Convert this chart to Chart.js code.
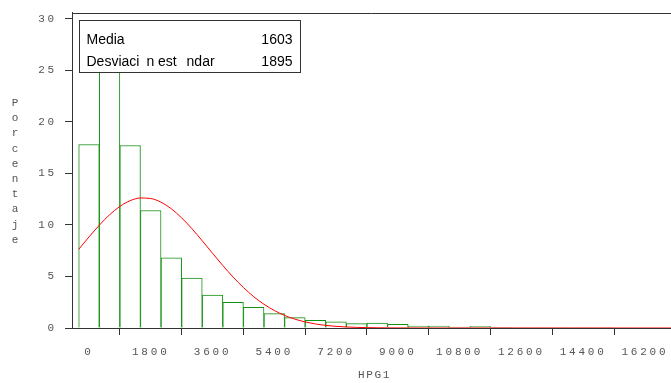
<!DOCTYPE html>
<html>
<head>
<meta charset="utf-8">
<script src="https://cdn.jsdelivr.net/npm/chart.js@4/dist/chart.umd.min.js"></script>
<style>
  html, body { margin: 0; padding: 0; background: #fff; }
  #wrap { width: 671px; height: 383px; position: relative; }
</style>
</head>
<body>
<div id="wrap"><canvas id="c" width="671" height="383"></canvas></div>
<script>
// ---- Data ----
const BIN_CENTERS = [0, 600, 1200, 1800, 2400, 3000, 3600, 4200, 4800, 5400, 6000, 6600, 7200,
                     7800, 8400, 9000, 9600, 10200, 10800, 11400, 12000, 12600, 13200, 13800, 14400, 15000];
const PERCENT = [17.8, 27.7, 17.7, 11.4, 6.8, 4.85, 3.2, 2.5, 2.0, 1.4, 1.0, 0.75, 0.6,
                 0.42, 0.48, 0.35, 0.19, 0.19, 0.1, 0.16, 0.06, 0.05, 0.05, 0.05, 0.05, 0.05];

const CURVE_X = [-300, 0, 300, 600, 900, 1200, 1500, 1800, 2100, 2400, 2700, 3000, 3300, 3600, 3900,
                 4200, 4500, 4800, 5100, 5400, 5700, 6000, 6300, 6600, 6900, 7200, 7500, 7800, 8100,
                 8400, 8700, 9000, 10000, 12000, 14000, 16000, 17000];
const CURVE_Y = [7.63, 8.83, 9.97, 10.98, 11.79, 12.35, 12.61, 12.56, 12.20, 11.56, 10.68, 9.63, 8.46, 7.25, 6.06,
                 4.94, 3.93, 3.04, 2.30, 1.70, 1.22, 0.86, 0.59, 0.39, 0.25, 0.16, 0.10, 0.06, 0.035,
                 0.02, 0.01, 0.006, 0, 0, 0, 0, 0];

const X_TICKS = [0, 1800, 3600, 5400, 7200, 9000, 10800, 12600, 14400, 16200];
const Y_TICKS = [0, 5, 10, 15, 20, 25, 30];

const X_TITLE = 'HPG1';
const Y_TITLE = 'Porcentaje';
const STAT_LABELS = ['Media', 'Desviaci\u2002n est\u2002\u2009ndar'];
const STAT_VALUES = ['1603', '1895'];

// ---- Chart ----
const MONO = '"Liberation Mono", "Courier New", monospace';
const AXIS_COLOR = '#333';
const TEXT_COLOR = '#555';

const decor = {
  id: 'decor',
  beforeDraw(chart) {
    chart.ctx.letterSpacing = '2.8px';
  },
  afterDraw(chart) {
    const ctx = chart.ctx;
    const a = chart.chartArea;
    ctx.save();
    // top frame line and extension of x axis to the left
    ctx.strokeStyle = AXIS_COLOR;
    ctx.lineWidth = 1;
    ctx.beginPath();
    ctx.moveTo(a.left, Math.round(a.top) + 0.5);
    ctx.lineTo(a.right, Math.round(a.top) + 0.5);
    ctx.moveTo(a.left - 7, Math.round(a.bottom) + 0.5);
    ctx.lineTo(a.left, Math.round(a.bottom) + 0.5);
    ctx.stroke();

    // axis titles
    ctx.fillStyle = TEXT_COLOR;
    ctx.font = '11px ' + MONO;
    ctx.letterSpacing = '1.6px';
    ctx.textAlign = 'center';
    ctx.textBaseline = 'alphabetic';
    ctx.fillText(X_TITLE, (a.left + a.right) / 2 + 3, 378);
    ctx.letterSpacing = '0px';
    for (let i = 0; i < Y_TITLE.length; i++) {
      ctx.fillText(Y_TITLE[i], 15, 106 + 15.2 * i);
    }

    // statistics box
    const bx = 79.5, by = 20.5, bw = 221, bh = 52;
    ctx.fillStyle = '#fff';
    ctx.fillRect(bx, by, bw, bh);
    ctx.strokeStyle = '#333';
    ctx.strokeRect(bx, by, bw, bh);
    ctx.fillStyle = '#000';
    ctx.font = '14px "Liberation Sans", Arial, sans-serif';
    ctx.textAlign = 'left';
    ctx.fillText(STAT_LABELS[0], bx + 7, by + 23.5);
    ctx.fillText(STAT_LABELS[1], bx + 7, by + 45.5);
    ctx.textAlign = 'right';
    ctx.fillText(STAT_VALUES[0], bx + bw - 8, by + 23.5);
    ctx.fillText(STAT_VALUES[1], bx + bw - 8, by + 45.5);
    ctx.restore();
  }
};

new Chart(document.getElementById('c'), {
  type: 'bar',
  data: {
    datasets: [
      {
        type: 'line',
        data: CURVE_X.map((x, i) => ({ x: x, y: CURVE_Y[i] })),
        borderColor: '#ff0000',
        borderWidth: 1,
        pointRadius: 0,
        cubicInterpolationMode: 'monotone',
        fill: false
      },
      {
        type: 'bar',
        data: BIN_CENTERS.map((x, i) => ({ x: x, y: PERCENT[i] })),
        backgroundColor: '#ffffff',
        borderColor: '#138f13',
        borderWidth: 1,
        barPercentage: 1,
        categoryPercentage: 1
      }
    ]
  },
  options: {
    responsive: false,
    animation: false,
    events: [],
    layout: { padding: { top: 12.5, right: 0, left: 0, bottom: 0 } },
    plugins: { legend: { display: false }, tooltip: { enabled: false }, title: { display: false } },
    scales: {
      x: {
        type: 'linear',
        min: -495,
        max: 16960,
        offset: false,
        afterFit: s => { s.height = 55; s.paddingLeft = 0; s.paddingRight = 0; },
        afterBuildTicks: s => { s.ticks = X_TICKS.map(v => ({ value: v })); },
        grid: { display: true, drawOnChartArea: false, drawTicks: true, tickLength: 7, color: AXIS_COLOR, tickWidth: 1 },
        border: { display: true, color: AXIS_COLOR, width: 1 },
        ticks: { color: TEXT_COLOR, font: { family: MONO, size: 11 }, padding: 10, maxRotation: 0, autoSkip: false,
                 callback: v => String(v) }
      },
      y: {
        type: 'linear',
        min: 0,
        max: 30.6,
        afterFit: s => { s.width = 72; s.paddingTop = 0; s.paddingBottom = 0; },
        afterBuildTicks: s => { s.ticks = Y_TICKS.map(v => ({ value: v })); },
        grid: { display: true, drawOnChartArea: false, drawTicks: true, tickLength: 7, color: AXIS_COLOR, tickWidth: 1 },
        border: { display: true, color: AXIS_COLOR, width: 1 },
        ticks: { color: TEXT_COLOR, font: { family: MONO, size: 11 }, padding: 8, autoSkip: false,
                 callback: v => String(v) }
      }
    }
  },
  plugins: [decor]
});
</script>
</body>
</html>
